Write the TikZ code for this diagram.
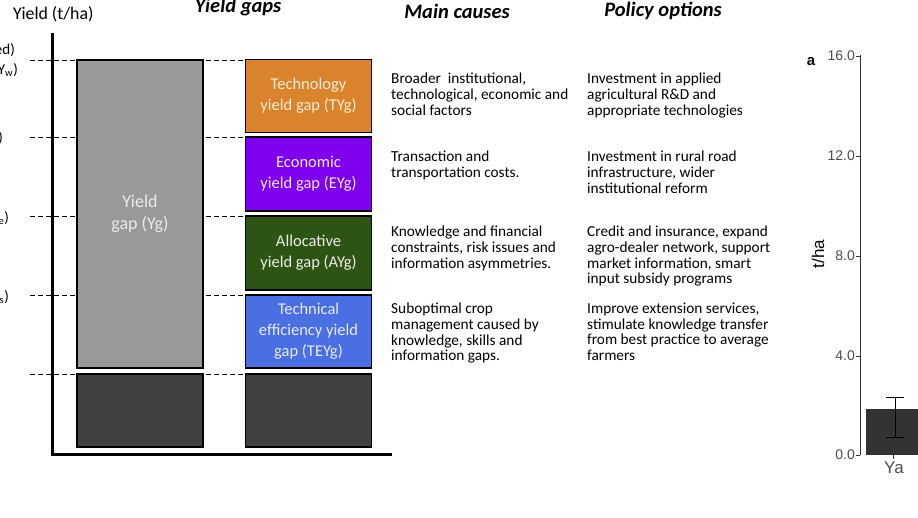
\documentclass[tikz,border=0pt]{standalone}
\usepackage{fontspec}
\setmainfont{Carlito}
\newfontfamily\plotfont{Liberation Sans}
\usepackage{xcolor}
\usetikzlibrary{calc}
\usetikzlibrary{positioning}

\definecolor{techorange}{RGB}{217,131,44}
\definecolor{econpurple}{RGB}{127,0,236}
\definecolor{allocgreen}{RGB}{46,84,20}
\definecolor{effblue}{RGB}{74,111,227}
\definecolor{gapgray}{RGB}{153,153,153}
\definecolor{basegray}{RGB}{64,64,64}
\definecolor{barblack}{RGB}{51,51,51}
\definecolor{techtext}{RGB}{252,236,214}

\tikzset{
    gapbox/.style={draw=black, line width=1.5pt, minimum width=126pt, inner sep=0pt,
        align=center, text=white!92!black, font=\fontsize{16.5}{21}\selectfont},
    leveldash/.style={black, line width=1pt, dash pattern=on 5pt off 3pt},
    gaptext/.style={anchor=north west, align=left, inner sep=0pt,
        font=\fontsize{15.3}{15.6}\selectfont},
    colhead/.style={font=\fontsize{20.5}{22}\selectfont\bfseries\itshape},
    levellabel/.style={anchor=east, inner sep=0pt, font=\fontsize{15}{17}\selectfont},
    ticklabel/.style={anchor=east, text=black!70, inner sep=0pt,
        font=\plotfont\fontsize{14}{16}\selectfont}
}

\begin{document}
\begin{tikzpicture}[x=1pt, y=-1pt]
    \useasboundingbox (0,0) rectangle (918,517);

    % 1. Headers
    \node[anchor=west, inner sep=0pt, font=\fontsize{17.8}{20}\selectfont] (yhead) at (13,14) {Yield (t/ha)};
    \node[colhead] (gaphead) at (238,7) {Yield gaps};
    \node[colhead] (causehead) at (457,11) {Main causes};
    \node[colhead] (policyhead) at (663,11) {Policy options};

    % 2. Yield levels (only the ends of the labels are seen)
    \node[levellabel] (lvla) at (15,50) {ed)};
    \node[levellabel] (lvlb) at (18,70) {Y\textsubscript{w})};
    \node[levellabel] (lvlc) at (3,138) {)};
    \node[levellabel] (lvld) at (9,218) {Y\textsubscript{e})};
    \node[levellabel] (lvle) at (9,297) {Y\textsubscript{s})};

    % 3. Dashed level lines, drawn before the boxes
    \foreach \y in {60, 137, 216, 295, 374} {
        \draw[leveldash] (30,\y) -- (245,\y);
    }

    % 4. Axes
    \draw[line width=3pt] (52,33) -- (52,454) -- (392,454);

    % 5. Total yield gap and the actual yield
    \node[gapbox, fill=gapgray, minimum height=308pt, font=\fontsize{18}{22}\selectfont] (yg) at (140,214) {Yield\\gap (Yg)};
    \node[gapbox, fill=basegray, minimum height=73pt] (ya) at (140,410.5) {};

    % 6. The four yield gaps
    \node[gapbox, fill=techorange, minimum height=73pt, text=techtext] (tyg) at (308.5,96) {Technology\\yield gap (TYg)};
    \node[gapbox, fill=econpurple, minimum height=74pt] (eyg) at (308.5,174) {Economic\\yield gap (EYg)};
    \node[gapbox, fill=allocgreen, minimum height=74pt] (ayg) at (308.5,253) {Allocative\\yield gap (AYg)};
    \node[gapbox, fill=effblue, minimum height=73pt] (teyg) at (308.5,331.5) {Technical\\efficiency yield\\gap (TEYg)};
    \node[gapbox, fill=basegray, minimum height=73pt] (yabase) at (308.5,410.5) {};

    % 7. Main causes
    \node[gaptext] (tcause) at (391,73) {Broader\ \ institutional,\\technological, economic and\\social factors};
    \node[gaptext] (ecause) at (391,151) {Transaction and\\transportation costs.};
    \node[gaptext] (acause) at (391,226) {Knowledge and financial\\constraints, risk issues and\\information asymmetries.};
    \node[gaptext] (tecause) at (391,303) {Suboptimal crop\\management caused by\\knowledge, skills and\\information gaps.};

    % 8. Policy options
    \node[gaptext] (tpolicy) at (587,73) {Investment in applied\\agricultural R\&D and\\appropriate technologies};
    \node[gaptext] (epolicy) at (587,151) {Investment in rural road\\infrastructure, wider\\institutional reform};
    \node[gaptext] (apolicy) at (587,226) {Credit and insurance, expand\\agro-dealer network, support\\market information, smart\\input subsidy programs};
    \node[gaptext] (tepolicy) at (587,303) {Improve extension services,\\stimulate knowledge transfer\\from best practice to average\\farmers};

    % 9. Bar chart on the right
    \node[font=\plotfont\bfseries\fontsize{15}{17}\selectfont, inner sep=0pt] (panel) at (811,62) {a};
    \node[rotate=90, inner sep=0pt, font=\plotfont\fontsize{17}{19}\selectfont] (unit) at (818,254) {t/ha};
    \fill[barblack] (866,409) rectangle (918,455);
    \draw[black!80, line width=1pt] (860,55) -- (860,455);
    \foreach \v/\y in {16.0/56, 12.0/156, 8.0/256, 4.0/356, 0.0/455} {
        \draw[black!80, line width=0.8pt] (856,\y) -- (860,\y);
        \node[ticklabel] at (855,\y) {\v};
    }
    \draw[black!80, line width=0.8pt] (893,455) -- (893,459);
    \draw[black, line width=0.6pt] (895,397) -- (895,437)
        (886,397) -- (904,397) (886,437) -- (904,437);
    \node[text=black!70, inner sep=0pt, font=\plotfont\fontsize{17}{19}\selectfont] (yalabel) at (894,468) {Ya};

\end{tikzpicture}
\end{document}
